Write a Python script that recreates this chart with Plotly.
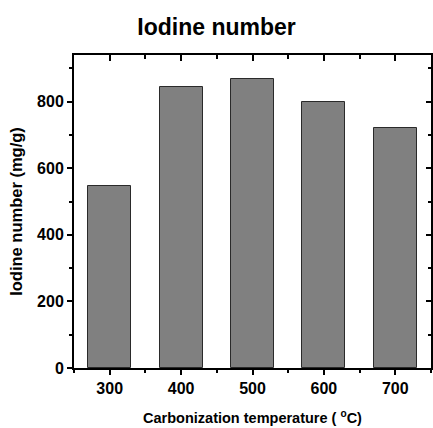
import plotly.graph_objects as go

temperatures = [300, 400, 500, 600, 700]
iodine_number = [548, 844, 869, 798, 721]
x_ticks = [300, 400, 500, 600, 700]
y_ticks = [0, 200, 400, 600, 800]

FONT = "Liberation Sans, Arial, sans-serif"
x_range = [250, 750]
y_range = [0, 940]

fig = go.Figure()

fig.add_trace(go.Bar(
    x=temperatures, y=iodine_number, width=60,
    marker=dict(color="#808080", line=dict(color="#2a2a2a", width=1)),
    showlegend=False,
))

# invisible trace so the mirrored top/right axes get drawn
fig.add_trace(go.Scatter(x=[None], y=[None], xaxis="x2", yaxis="y2",
                         showlegend=False, hoverinfo="skip"))

axis_common = dict(showline=True, linecolor="black", linewidth=2,
                   showgrid=False, zeroline=False, tickcolor="black",
                   tickwidth=1.5, automargin=False)

fig.update_layout(
    width=433, height=428,
    margin=dict(l=74, r=2, t=55, b=60, autoexpand=False),
    plot_bgcolor="white", paper_bgcolor="white",
    font=dict(family=FONT, color="black"),
    bargap=0,
    title=dict(text="<b>Iodine number</b>", x=0.5, xanchor="center",
               y=0.937, yanchor="middle", font=dict(size=23, family=FONT)),
    xaxis=dict(range=x_range, tickvals=x_ticks,
               ticktext=[f"<b>{v}</b>" for v in x_ticks],
               ticks="outside", ticklen=5, tickfont=dict(size=16),
               minor=dict(dtick=50, tick0=250, ticks="outside", ticklen=3,
                          tickcolor="black", tickwidth=1.5),
               title=dict(text="<b>Carbonization temperature ( <sup>o</sup>C)</b>",
                          font=dict(size=14.5), standoff=17),
               **axis_common),
    yaxis=dict(range=y_range, tickvals=y_ticks,
               ticktext=[f"<b>{v}</b>" for v in y_ticks],
               ticks="outside", ticklen=5, tickfont=dict(size=16),
               minor=dict(dtick=100, tick0=0, ticks="outside", ticklen=3,
                          tickcolor="black", tickwidth=1.5),
               title=dict(text="<b>Iodine number (mg/g)</b>",
                          font=dict(size=16.5), standoff=10),
               **axis_common),
    xaxis2=dict(overlaying="x", side="top", anchor="y", range=x_range,
                tickvals=x_ticks, showticklabels=False, ticks="inside", ticklen=6,
                minor=dict(dtick=50, tick0=250, ticks="inside", ticklen=4,
                           tickcolor="black", tickwidth=1.5),
                **axis_common),
    yaxis2=dict(overlaying="y", side="right", anchor="x", range=y_range,
                tickvals=y_ticks, showticklabels=False, ticks="inside", ticklen=5,
                minor=dict(dtick=100, tick0=0, ticks="inside", ticklen=3,
                           tickcolor="black", tickwidth=1.5),
                **axis_common),
)

# no body margin and no scrollbars, so the figure fills the window exactly
fig.write_html(
    "out.html",
    config={"displayModeBar": False},
    post_script="document.body.style.margin='0px';"
                "document.documentElement.style.overflow='hidden';"
                "document.body.style.overflow='hidden';",
)
